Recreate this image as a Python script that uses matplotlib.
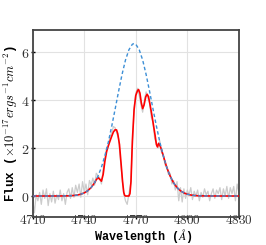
import matplotlib
matplotlib.use("Agg")
import matplotlib.pyplot as plt
import numpy as np

plt.rcParams['mathtext.fontset'] = 'cm'

# Blue dashed: intrinsic line profile
blue_wl = [4710, 4720, 4726, 4728, 4730, 4732, 4734, 4736, 4738, 4740, 4742, 4744, 4746,
           4748, 4750, 4752, 4754, 4756, 4758, 4760, 4762, 4764, 4766, 4768, 4769, 4770,
           4772, 4774, 4776, 4778, 4780, 4782, 4784, 4786, 4788, 4790, 4792, 4794, 4796,
           4798, 4800, 4802, 4804, 4806, 4808, 4812, 4820, 4830]
blue_flux = [0.0, 0.0, 0.002, 0.004, 0.006, 0.011, 0.022, 0.041, 0.075, 0.13, 0.219, 0.354, 0.55,
             0.83, 1.20, 1.68, 2.25, 2.92, 3.64, 4.38, 5.08, 5.68, 6.11, 6.34, 6.37, 6.34,
             6.11, 5.68, 5.08, 4.38, 3.64, 2.92, 2.25, 1.68, 1.20, 0.83, 0.55, 0.354, 0.219,
             0.13, 0.075, 0.041, 0.022, 0.011, 0.006, 0.002, 0.0, 0.0]

# Red: model with absorption
red_wl = [4710, 4720, 4726, 4730, 4734, 4736, 4738, 4740, 4742, 4744, 4746, 4747, 4748,
          4749, 4750, 4751, 4752, 4753, 4754, 4755, 4756, 4757, 4758, 4758.8, 4759.5,
          4760.5, 4761.5, 4762.3, 4763, 4763.5, 4764, 4766, 4766.6, 4767.2, 4768, 4769,
          4770, 4771, 4771.6, 4772.4, 4773.2, 4774, 4774.8, 4775.8, 4776.6, 4777.4,
          4778.2, 4779.2, 4780.2, 4781.2, 4782, 4782.6, 4783.3, 4784, 4785, 4786, 4788,
          4790, 4792, 4794, 4796, 4798, 4800, 4802, 4804, 4806, 4808, 4812, 4820, 4830]
red_flux = [0.0, 0.0, 0.002, 0.006, 0.022, 0.041, 0.075, 0.13, 0.219, 0.354, 0.55, 0.68, 0.77,
            0.70, 0.62, 0.9, 1.45, 1.85, 2.1, 2.3, 2.5, 2.68, 2.77, 2.76, 2.6,
            2.15, 1.3, 0.6, 0.15, 0.03, 0.0, 0.0, 0.1, 0.6, 2.3, 3.6,
            4.2, 4.4, 4.45, 4.3, 3.9, 3.65, 3.8, 4.15, 4.25, 4.15,
            3.85, 3.45, 3.0, 2.55, 2.15, 2.05, 2.2, 2.12, 1.93, 1.68, 1.20,
            0.83, 0.55, 0.354, 0.219, 0.13, 0.075, 0.041, 0.022, 0.011, 0.006, 0.002, 0.0, 0.0]

# Gray: observed spectrum
data_wl = list(range(4710, 4831))
data_flux = [-0.15, -0.70, 0.05, -0.20, 0.15, -0.35, 0.25, -0.10, 0.30, -0.40,
             0.10, -0.25, 0.20, -0.30, 0.05, -0.15, 0.25, -0.20, 0.10, -0.35,
             0.15, 0.30, -0.10, 0.35, -0.05, 0.45, 0.15, 0.50, -0.05, 0.60,
             0.15, 0.50, 0.05, 0.65, 0.45, 0.75, 0.45, 0.95, 0.85,
             0.75, 0.50, 1.10, 1.60, 2.00, 2.05, 2.50, 2.65, 2.90, 2.85,
             2.60, 2.40, 1.55, 0.80, 0.10, -0.20, -0.35, 0.10, 0.50, 2.00,
             3.70, 4.30, 4.50, 4.20, 3.80, 3.50, 4.00, 4.35, 4.10, 3.90,
             3.30, 3.10, 2.40, 2.20, 2.00, 2.30, 1.80, 1.75, 1.30, 1.25,
             0.90, 0.95, 0.50, 0.65, 0.25,
             0.60, -0.20, 0.35, -0.25, 0.30, -0.10, 0.25, 0.05, 0.35, -0.15,
             0.20, 0.00, 0.25, -0.20, 0.15, -0.05, 0.30, 0.05, 0.20, -0.20,
             0.10, 0.30, -0.10, 0.25, 0.10, 0.35, -0.15, 0.30, 0.00, 0.40,
             -0.10, 0.35, 0.10, 0.40, -0.20, 0.50, 0.15]

xticks = [4710, 4740, 4770, 4800, 4830]
yticks = [0, 2, 4, 6]

fig = plt.figure(figsize=(2.66, 2.45), dpi=100)
ax = fig.add_axes([0.123, 0.114, 0.775, 0.765])

ax.plot(data_wl, data_flux, color='#cccccc', lw=0.9, zorder=2)
ax.plot(red_wl, red_flux, color='red', lw=1.2, zorder=3)
ax.plot(blue_wl, blue_flux, color='#3d8fd6', lw=1.0, ls=(0, (2.5, 1.8)), zorder=4)

ax.set_xlim(4710, 4830)
ax.set_ylim(-0.88, 6.95)
ax.set_xticks(xticks)
ax.set_yticks(yticks)
ax.set_xticklabels([f'${t}$' for t in xticks], fontsize=9.5)
ax.set_yticklabels([f'${t}$' for t in yticks], fontsize=10)
ax.tick_params(direction='inout', length=2.5, width=1, colors='black', labelcolor='#333333')
ax.tick_params(axis='x', pad=-3.5)
ax.tick_params(axis='y', pad=1)
ax.grid(True, color='#e2e2e2', lw=0.8, zorder=0)
for s in ax.spines.values():
    s.set_color('#444444')
    s.set_linewidth(1.3)

ax.set_ylabel(r'Flux ($\times10^{-17} ergs^{-1}cm^{-2}$)', family='Liberation Mono',
              weight='bold', fontsize=9, labelpad=1)
fig.text(0.54, 0.001, r'Wavelength ($\AA$)', family='Liberation Mono', weight='bold',
         fontsize=8.5, ha='center', va='bottom')

fig.savefig('out.png', dpi=100)
